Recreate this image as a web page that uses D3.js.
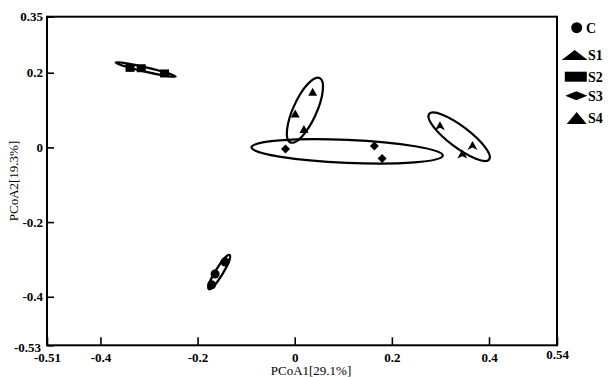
<!DOCTYPE html>
<html>
<head>
<meta charset="utf-8">
<script src="https://cdn.jsdelivr.net/npm/d3@7"></script>
<style>
  html, body { margin: 0; padding: 0; background: #fff; }
  svg { display: block; }
  text { font-family: "Liberation Serif", "Times New Roman", serif; fill: #000; }
</style>
</head>
<body>
<svg id="chart" width="608" height="377"></svg>
<script>
// ---- data ----
const categories = ["C", "S1", "S2", "S3", "S4"];
const symbolTypes = ["circle", "arrow", "square", "diamond", "triangle"];

const cX = [-0.164, -0.171, -0.1435];
const cY = [-0.339, -0.368, -0.307];
const s1X = [0.299, 0.366, 0.345];
const s1Y = [0.058, 0.005, -0.018];
const s2X = [-0.339, -0.316, -0.268];
const s2Y = [0.213, 0.212, 0.198];
const s3X = [-0.019, 0.164, 0.180];
const s3Y = [-0.004, 0.004, -0.030];
const s4X = [0.037, 0.001, 0.019];
const s4Y = [0.149, 0.091, 0.049];

// confidence ellipses: major-axis ends (data units) and minor/major ratio
const ellipseGroups = ["C", "S1", "S2", "S3", "S4"];
const ellX1 = [-0.178, 0.275, -0.371, -0.091, 0.052];
const ellY1 = [-0.382, 0.091, 0.228, 0.0004, 0.188];
const ellX2 = [-0.133, 0.402, -0.243, 0.307, -0.010];
const ellY2 = [-0.286, -0.034, 0.189, -0.022, 0.011];
const ellRatio = [0.19, 0.28, 0.07, 0.12, 0.33];

const xTicks = [-0.51, -0.4, -0.2, 0, 0.2, 0.4, 0.54];
const yTicks = [-0.53, -0.4, -0.2, 0, 0.2, 0.35];
const xTitle = "PCoA1[29.1%]";
const yTitle = "PCoA2[19.3%]";

// ---- build ----
const series = [
  {name: "C", xs: cX, ys: cY},
  {name: "S1", xs: s1X, ys: s1Y},
  {name: "S2", xs: s2X, ys: s2Y},
  {name: "S3", xs: s3X, ys: s3Y},
  {name: "S4", xs: s4X, ys: s4Y}
];

const L = 47, R = 557, T = 16.7, B = 345.3;
const x = d3.scaleLinear().domain([-0.51, 0.54]).range([L, R]);
const y = d3.scaleLinear().domain([-0.53, 0.35]).range([B, T]);

const svg = d3.select("#chart");

function symPath(type, w, h) {
  const p = d3.path();
  const hw = w / 2, hh = h / 2;
  if (type === "circle") {
    p.arc(0, 0, hw, 0, Math.PI * 2);
  } else if (type === "square") {
    p.rect(-hw, -hh, w, h);
  } else if (type === "diamond") {
    p.moveTo(0, -hh); p.lineTo(hw, 0); p.lineTo(0, hh); p.lineTo(-hw, 0); p.closePath();
  } else if (type === "triangle") {
    p.moveTo(0, -hh); p.lineTo(hw, hh); p.lineTo(-hw, hh); p.closePath();
  } else if (type === "arrow") {
    p.moveTo(0, -hh); p.lineTo(hw, hh); p.lineTo(0, hh * 0.45); p.lineTo(-hw, hh); p.closePath();
  }
  return p.toString();
}

// ellipses
const ellG = svg.append("g");
ellipseGroups.forEach((g, i) => {
  const px1 = x(ellX1[i]), py1 = y(ellY1[i]), px2 = x(ellX2[i]), py2 = y(ellY2[i]);
  const cx = (px1 + px2) / 2, cy = (py1 + py2) / 2;
  const a = Math.hypot(px2 - px1, py2 - py1) / 2 - 1;
  const ang = Math.atan2(py2 - py1, px2 - px1) * 180 / Math.PI;
  ellG.append("ellipse")
    .attr("cx", 0).attr("cy", 0)
    .attr("rx", a).attr("ry", Math.max(1.2, a * ellRatio[i]))
    .attr("transform", `translate(${cx},${cy}) rotate(${ang})`)
    .attr("fill", "none").attr("stroke", "#000").attr("stroke-width", 2.2);
});

// points
const sizes = {circle: [9, 9], arrow: [10, 9], square: [9, 8], diamond: [9, 9], triangle: [9, 8]};
const ptG = svg.append("g");
series.forEach((s, i) => {
  const t = symbolTypes[i];
  s.xs.forEach((v, j) => {
    ptG.append("path")
      .attr("d", symPath(t, sizes[t][0], sizes[t][1]))
      .attr("transform", `translate(${x(v)},${y(s.ys[j])})`)
      .attr("fill", "#000");
  });
});

// axes
const fmt = d => d === 0 ? "0" : String(d);
const xAxis = svg.append("g").attr("transform", `translate(0,${B})`)
  .call(d3.axisBottom(x).tickValues(xTicks).tickFormat(fmt).tickSizeInner(-8).tickSizeOuter(0).tickPadding(7));
const yAxis = svg.append("g").attr("transform", `translate(${L},0)`)
  .call(d3.axisLeft(y).tickValues(yTicks).tickFormat(fmt).tickSizeInner(-7).tickSizeOuter(0).tickPadding(4));
[xAxis, yAxis].forEach(ax => {
  ax.select(".domain").remove();
  ax.selectAll(".tick line").attr("stroke", "#000").attr("stroke-width", 1.6);
  ax.selectAll(".tick text")
    .attr("font-family", "Liberation Serif, serif")
    .attr("font-size", 13).attr("font-weight", "bold").attr("fill", "#000");
});
xAxis.selectAll(".tick").filter(d => d === 0.54).select("text").attr("dy", "0.55em");
yAxis.selectAll(".tick").filter(d => d === -0.53).select("text").attr("x", -6).attr("dy", "0.45em");
yAxis.selectAll(".tick").filter(d => d === 0.35).select("text").attr("dy", "0.3em");

// frame
svg.append("rect").attr("x", L).attr("y", T).attr("width", R - L).attr("height", B - T)
  .attr("fill", "none").attr("stroke", "#000").attr("stroke-width", 2);

// titles
svg.append("text").attr("x", 311).attr("y", 375).attr("text-anchor", "middle")
  .attr("font-size", 13).text(xTitle);
svg.append("text").attr("transform", "translate(18,181) rotate(-90)").attr("text-anchor", "middle")
  .attr("font-size", 13).text(yTitle);

// legend
const legY = [27.7, 55, 76.7, 95.7, 118];
const legSizes = [[11, 11], [26, 10], [22, 10], [22, 9], [20, 12]];
const legCx = [576.7, 574.7, 575.8, 576.3, 576.7];
const leg = svg.append("g");
categories.forEach((c, i) => {
  const t = symbolTypes[i];
  const type = t === "arrow" ? "triangle" : t;
  leg.append("path")
    .attr("d", symPath(type, legSizes[i][0], legSizes[i][1]))
    .attr("transform", `translate(${legCx[i]},${legY[i]})`)
    .attr("fill", "#000");
  leg.append("text").attr("x", i === 0 ? 586 : 588).attr("y", legY[i]).attr("dy", "0.35em")
    .attr("font-size", 14).attr("font-weight", "bold").text(c);
});
</script>
</body>
</html>
